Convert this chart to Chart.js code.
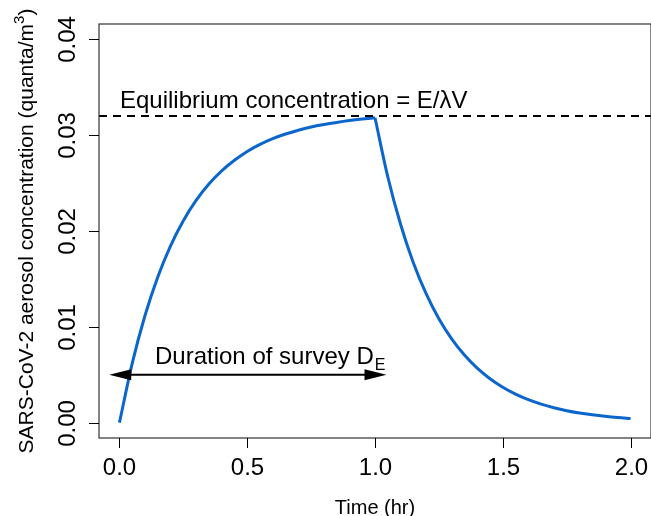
<!DOCTYPE html>
<html>
<head>
<meta charset="utf-8">
<script src="https://cdn.jsdelivr.net/npm/chart.js@4/dist/chart.umd.min.js"></script>
<style>
  html, body { margin: 0; padding: 0; background: #fff; }
  #wrap { width: 651px; height: 516px; }
</style>
</head>
<body>
<div id="wrap"><canvas id="chart"></canvas></div>
<script>
/* ── Values ── */
const riseTimes = [0.00, 0.05, 0.10, 0.15, 0.20, 0.25, 0.30, 0.35, 0.40, 0.45, 0.50,
                   0.55, 0.60, 0.65, 0.70, 0.75, 0.80, 0.85, 0.90, 0.95, 1.00];
const riseValues = [0.00000, 0.00619, 0.01118, 0.01521, 0.01846, 0.02108, 0.02319, 0.02490, 0.02627, 0.02738, 0.02830,
                    0.02904, 0.02964, 0.03012, 0.03052, 0.03085, 0.03111, 0.03133, 0.03152, 0.03168, 0.03182];
const decayTimes = [1.00, 1.05, 1.10, 1.15, 1.20, 1.25, 1.30, 1.35, 1.40, 1.45, 1.50,
                    1.55, 1.60, 1.65, 1.70, 1.75, 1.80, 1.85, 1.90, 1.95, 2.00];
const decayValues = [0.03182, 0.02566, 0.02070, 0.01669, 0.01346, 0.01085, 0.00875, 0.00706, 0.00569, 0.00459, 0.00370,
                     0.00298, 0.00240, 0.00194, 0.00156, 0.00125, 0.00101, 0.00082, 0.00066, 0.00053, 0.00043];
const equilibriumLevel = 0.032;

const xTicks = [0, 0.5, 1, 1.5, 2];
const xTickLabels = ['0.0', '0.5', '1.0', '1.5', '2.0'];
const yTicks = [0, 0.01, 0.02, 0.03, 0.04];
const yTickLabels = ['0.00', '0.01', '0.02', '0.03', '0.04'];

// axis limits (R style, 4% extension)
const xRange = [-0.08, 2.08];
const yRange = [-0.0016, 0.0416];

// survey arrow, in data units
const surveyStart = -0.04;
const surveyEnd = 1.045;
const surveyLevel = 0.005;

const FONT = '"Liberation Sans", Arial, sans-serif';
const BLUE = '#0b66cc';

/* ── Frame, ticks, labels and annotations (R base look) ── */
const rStylePlugin = {
    id: 'rStyle',
    afterDraw(chart) {
        const { ctx, chartArea: a, scales: { x, y } } = chart;
        ctx.save();

        // plot box
        ctx.strokeStyle = '#333';
        ctx.lineWidth = 1.2;
        ctx.strokeRect(a.left, a.top, a.right - a.left, a.bottom - a.top);

        // x ticks + labels
        ctx.strokeStyle = '#000';
        ctx.lineWidth = 1;
        ctx.fillStyle = '#000';
        ctx.font = `24px ${FONT}`;
        ctx.textAlign = 'center';
        ctx.textBaseline = 'alphabetic';
        xTicks.forEach((v, i) => {
            const px = Math.round(x.getPixelForValue(v)) + 0.5;
            ctx.beginPath();
            ctx.moveTo(px, a.bottom);
            ctx.lineTo(px, a.bottom + 10);
            ctx.stroke();
            ctx.fillText(xTickLabels[i], px, 475);
        });

        // y ticks + rotated labels
        yTicks.forEach((v, i) => {
            const py = Math.round(y.getPixelForValue(v)) + 0.5;
            ctx.beginPath();
            ctx.moveTo(a.left, py);
            ctx.lineTo(a.left - 10, py);
            ctx.stroke();
            ctx.save();
            ctx.translate(75, py);
            ctx.rotate(-Math.PI / 2);
            ctx.fillText(yTickLabels[i], 0, 0);
            ctx.restore();
        });

        // axis titles
        ctx.font = `20px ${FONT}`;
        ctx.fillText('Time (hr)', (a.left + a.right) / 2, 514);

        ctx.save();
        ctx.translate(33, 231);
        ctx.rotate(-Math.PI / 2);
        const t1 = 'SARS-CoV-2 aerosol concentration (quanta/m';
        const t2 = '3';
        const t3 = ')';
        ctx.font = `21px ${FONT}`;
        const w1 = ctx.measureText(t1).width;
        const w3 = ctx.measureText(t3).width;
        ctx.font = `15px ${FONT}`;
        const w2 = ctx.measureText(t2).width;
        let sx = -(w1 + w2 + w3) / 2;
        ctx.textAlign = 'left';
        ctx.font = `21px ${FONT}`;
        ctx.fillText(t1, sx, 0);
        ctx.font = `15px ${FONT}`;
        ctx.fillText(t2, sx + w1, -9);
        ctx.font = `21px ${FONT}`;
        ctx.fillText(t3, sx + w1 + w2, 0);
        ctx.restore();

        // equilibrium label
        ctx.textAlign = 'left';
        ctx.font = `24px ${FONT}`;
        ctx.fillText('Equilibrium concentration = E/\u03bbV', 120, 108);

        // survey arrow
        const ay = y.getPixelForValue(surveyLevel);
        const ax0 = x.getPixelForValue(surveyStart);
        const ax1 = x.getPixelForValue(surveyEnd);
        ctx.lineWidth = 2;
        ctx.beginPath();
        ctx.moveTo(ax0 + 10, ay);
        ctx.lineTo(ax1 - 10, ay);
        ctx.stroke();
        [[ax0, 1], [ax1, -1]].forEach(([tip, dir]) => {
            ctx.beginPath();
            ctx.moveTo(tip, ay);
            ctx.lineTo(tip + dir * 22, ay - 5.5);
            ctx.lineTo(tip + dir * 22, ay + 5.5);
            ctx.closePath();
            ctx.fill();
        });

        // survey label with subscript
        ctx.font = `24px ${FONT}`;
        const main = 'Duration of survey D';
        ctx.fillText(main, 155, 364);
        const mw = ctx.measureText(main).width;
        ctx.font = `16px ${FONT}`;
        ctx.fillText('E', 155 + mw + 1, 370);

        ctx.restore();
    }
};

const toPoints = (xs, ys) => xs.map((t, i) => ({ x: t, y: ys[i] }));

new Chart(document.getElementById('chart'), {
    type: 'scatter',
    data: {
        datasets: [
            {
                label: 'Equilibrium',
                data: toPoints(xRange, [equilibriumLevel, equilibriumLevel]),
                showLine: true,
                borderColor: '#000',
                borderWidth: 2,
                borderDash: [8, 6],
                pointRadius: 0
            },
            {
                label: 'Rise',
                data: toPoints(riseTimes, riseValues),
                showLine: true,
                borderColor: BLUE,
                borderWidth: 3,
                pointRadius: 0,
                cubicInterpolationMode: 'monotone'
            },
            {
                label: 'Decay',
                data: toPoints(decayTimes, decayValues),
                showLine: true,
                borderColor: BLUE,
                borderWidth: 3,
                pointRadius: 0,
                cubicInterpolationMode: 'monotone'
            }
        ]
    },
    options: {
        responsive: true,
        maintainAspectRatio: false,
        animation: false,
        layout: { padding: { left: 99, right: 0, top: 24, bottom: 78 } },
        plugins: {
            legend: { display: false },
            tooltip: { enabled: false }
        },
        scales: {
            x: { type: 'linear', min: xRange[0], max: xRange[1], display: false },
            y: { type: 'linear', min: yRange[0], max: yRange[1], display: false }
        }
    },
    plugins: [rStylePlugin]
});
</script>
</body>
</html>
